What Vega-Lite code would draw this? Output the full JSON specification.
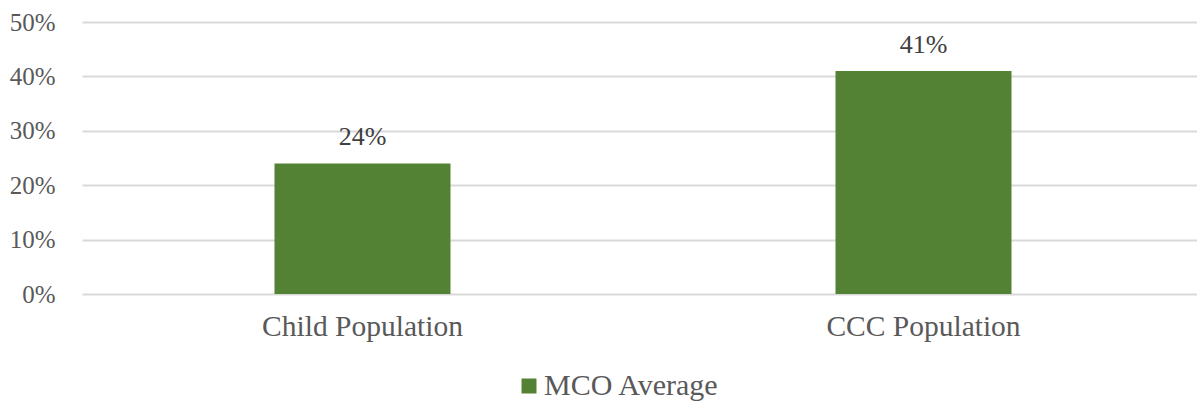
{
  "$schema": "https://vega.github.io/schema/vega-lite/v6.json",
  "autosize": {"type": "none"},
  "width": 1122,
  "height": 272,
  "padding": {"left": 82, "top": 22, "right": 0, "bottom": 108},
  "background": "white",
  "config": {
    "view": {"stroke": null},
    "font": "Liberation Serif"
  },
  "data": {
    "values": [
      {"population": "Child Population", "rate": 0.24, "series": "MCO Average"},
      {"population": "CCC Population", "rate": 0.41, "series": "MCO Average"}
    ]
  },
  "encoding": {
    "x": {
      "field": "population",
      "type": "nominal",
      "sort": null,
      "scale": {"paddingInner": 0, "paddingOuter": 0},
      "axis": {
        "title": null,
        "labelAngle": 0,
        "labelFont": "Liberation Serif",
        "labelFontSize": 29.5,
        "labelColor": "#595959",
        "labelPadding": 18,
        "labelLimit": 0,
        "ticks": false,
        "domain": false,
        "grid": false
      }
    },
    "y": {
      "field": "rate",
      "type": "quantitative",
      "scale": {"domain": [0, 0.5], "nice": false},
      "axis": {
        "title": null,
        "format": ".0%",
        "values": [0, 0.1, 0.2, 0.3, 0.4, 0.5],
        "labelFont": "Liberation Serif",
        "labelFontSize": 25,
        "labelColor": "#595959",
        "labelPadding": 27,
        "ticks": false,
        "domain": false,
        "grid": true,
        "gridColor": "#d9d9d9",
        "gridWidth": 2
      }
    }
  },
  "layer": [
    {
      "mark": {"type": "bar", "size": 176},
      "encoding": {
        "color": {
          "field": "series",
          "type": "nominal",
          "scale": {"range": ["#548235"]},
          "legend": {
            "title": null,
            "orient": "none",
            "legendX": 432,
            "legendY": 349,
            "symbolType": "square",
            "symbolSize": 225,
            "symbolStrokeWidth": 0,
            "labelFont": "Liberation Serif",
            "labelFontSize": 30,
            "labelColor": "#595959",
            "labelOffset": 0,
            "labelLimit": 0,
            "padding": 0
          }
        }
      }
    },
    {
      "mark": {
        "type": "text",
        "baseline": "alphabetic",
        "dy": -18,
        "font": "Liberation Serif",
        "fontSize": 26,
        "color": "#404040"
      },
      "encoding": {
        "text": {"field": "rate", "type": "quantitative", "format": ".0%"}
      }
    }
  ]
}
